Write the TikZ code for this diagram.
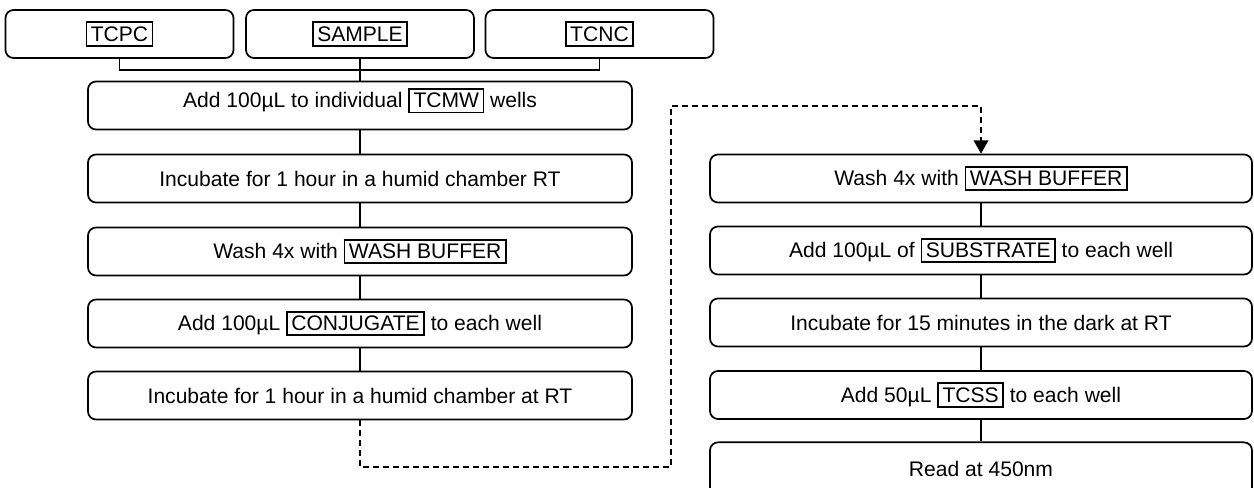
\documentclass[tikz,border=0pt]{standalone}
\usepackage{fontspec}
\setmainfont{Liberation Sans}
\usetikzlibrary{arrows.meta}
\newcommand{\kitname}[1]{{\setlength{\fboxsep}{2.6pt}\setlength{\fboxrule}{1.3pt}\fbox{#1}}}

\begin{document}
\begin{tikzpicture}[x=0.75pt, y=-0.75pt,
	stepbox/.style={draw, line width=1.3pt, rounded corners=6pt, fill=white, minimum height=36pt, inner sep=0pt, font=\fontsize{15.8}{18}\selectfont},
	topbox/.style={stepbox, minimum width=171pt},
	leftbox/.style={stepbox, minimum width=408pt},
	rightbox/.style={stepbox, minimum width=406.5pt},
	link/.style={line width=1.3pt},
	jump/.style={line width=1.3pt, dash pattern=on 4.5pt off 3pt, -{Triangle[width=11pt,length=10pt]}}]
			%%%%% START %%%%%
			
			\clip (0, 0) rectangle (1254, 487);
			
			% reagents
			\node[topbox] (tcpc) at (119.5, 34) {\kitname{TCPC}};
			\node[topbox] (sample) at (360, 34) {\kitname{SAMPLE}};
			\node[topbox] (tcnc) at (599.5, 34) {\kitname{TCNC}};
			
			% first column
			\node[leftbox, text height=12pt, text depth=8.3pt] (l1) at (360, 105.5) {Add 100µL to individual \kitname{TCMW} wells};
			\node[leftbox] (l2) at (360, 178.5) {Incubate for 1 hour in a humid chamber RT};
			\node[leftbox] (l3) at (360, 251.5) {Wash 4x with \kitname{WASH BUFFER}};
			\node[leftbox] (l4) at (360, 323.5) {Add 100µL \kitname{CONJUGATE} to each well};
			\node[leftbox] (l5) at (360, 395.5) {Incubate for 1 hour in a humid chamber at RT};
			
			% second column
			\node[rightbox] (r1) at (981, 178.5) {Wash 4x with \kitname{WASH BUFFER}};
			\node[rightbox] (r2) at (981, 250.5) {Add 100µL of \kitname{SUBSTRATE} to each well};
			\node[rightbox] (r3) at (981, 322.5) {Incubate for 15 minutes in the dark at RT};
			\node[rightbox] (r4) at (981, 395) {Add 50µL \kitname{TCSS} to each well};
			\node[rightbox, minimum height=40pt] (r5) at (981, 469) {Read at 450nm};
			
			\coordinate (bar) at (360, 70);
			\coordinate (turnA) at (671, 467);
			\coordinate (turnB) at (981, 106);
			
			\draw[link] (tcpc.south) |- (bar) -| (tcnc.south);
			\draw[link] (sample.south) -- (l1.north);
			\draw[link] (l1) -- (l2);
			\draw[link] (l2) -- (l3);
			\draw[link] (l3) -- (l4);
			\draw[link] (l4) -- (l5);
			
			\draw[jump] (l5.south) |- (turnA) |- (turnB) -- (r1.north);
			
			\draw[link] (r1) -- (r2);
			\draw[link] (r2) -- (r3);
			\draw[link] (r3) -- (r4);
			\draw[link] (r4) -- (r5);
			
			%%%%% END %%%%%
\end{tikzpicture}
\end{document}
